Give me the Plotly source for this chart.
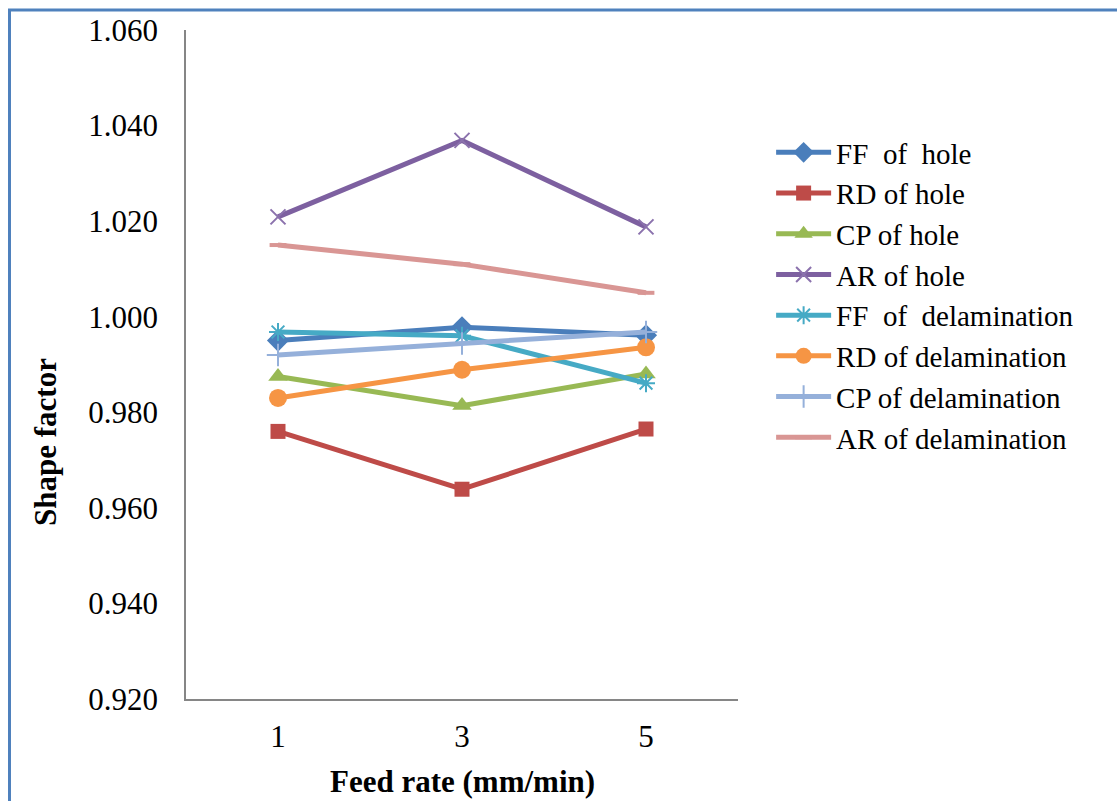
import plotly.graph_objects as go

feed_rate = ["1", "3", "5"]

ff_hole = [0.9950, 0.9978, 0.9961]
rd_hole = [0.9760, 0.9639, 0.9765]
cp_hole = [0.9875, 0.9814, 0.9880]
ar_hole = [1.0209, 1.0369, 1.0188]
ff_delam = [0.9968, 0.9960, 0.9861]
rd_delam = [0.9830, 0.9889, 0.9936]
cp_delam = [0.9920, 0.9944, 0.9968]
ar_delam = [1.0150, 1.0110, 1.0050]

y_ticks = [0.920, 0.940, 0.960, 0.980, 1.000, 1.020, 1.040, 1.060]
y_tick_text = ["0.920", "0.940", "0.960", "0.980", "1.000", "1.020", "1.040", "1.060"]

FONT = "Liberation Serif"

series = [
    ("FF  of  hole", ff_hole, "#4A7EBB", dict(symbol="diamond", size=17)),
    ("RD of hole", rd_hole, "#BE4B48", dict(symbol="square", size=15)),
    ("CP of hole", cp_hole, "#98B954", dict(symbol="triangle-up", size=17)),
    ("AR of hole", ar_hole, "#7D60A0", dict(symbol="x-thin", size=15, line=dict(width=2, color="#8B72AD"))),
    ("FF  of  delamination", ff_delam, "#46AAC5", dict(symbol="asterisk", size=15, line=dict(width=2, color="#46AAC5"))),
    ("RD of delamination", rd_delam, "#F69544", dict(symbol="circle", size=18)),
    ("CP of delamination", cp_delam, "#95B0DA", dict(symbol="cross-thin", size=16, line=dict(width=2, color="#95B0DA"))),
    ("AR of delamination", ar_delam, "#D99694", dict(symbol="line-ew", size=12, line=dict(width=4, color="#D99694"))),
]

fig = go.Figure()
for name, vals, color, marker in series:
    m = dict(color=color)
    m.update(marker)
    fig.add_trace(go.Scatter(
        x=feed_rate, y=vals, name=name, mode="lines+markers",
        line=dict(color=color, width=5), marker=m,
    ))

fig.update_layout(
    width=1117, height=801,
    paper_bgcolor="white", plot_bgcolor="white",
    margin=dict(l=186, r=379, t=30, b=102),
    font=dict(family=FONT, size=31, color="black"),
    showlegend=True,
    legend=dict(
        x=1.06, y=0.855, xanchor="left", yanchor="top",
        font=dict(family=FONT, size=29, color="black"),
        tracegroupgap=0, itemwidth=55, bgcolor="rgba(0,0,0,0)",
    ),
    xaxis=dict(
        type="category", range=[-0.5, 2.5],
        showline=True, linecolor="#868686", linewidth=1.5,
        showgrid=False, zeroline=False, ticks="",
        ticklabelstandoff=9,
        tickfont=dict(family=FONT, size=31),
    ),
    yaxis=dict(
        range=[0.920, 1.060], tickvals=y_ticks, ticktext=y_tick_text,
        showline=True, linecolor="#868686", linewidth=1.5,
        showgrid=False, zeroline=False, ticks="",
        ticklabelstandoff=20,
        tickfont=dict(family=FONT, size=31),
    ),
    annotations=[
        dict(text="<b>Shape factor</b>", xref="paper", yref="paper",
             x=(45 - 186) / 552, y=(699 - 442) / 669, textangle=-90,
             showarrow=False, xanchor="center", yanchor="middle",
             font=dict(family=FONT, size=31, color="black")),
        dict(text="<b>Feed rate (mm/min)</b>", xref="paper", yref="paper",
             x=0.5, y=(699 - 781) / 669, showarrow=False,
             xanchor="center", yanchor="middle",
             font=dict(family=FONT, size=31, color="black")),
    ],
    shapes=[
        dict(type="rect", xref="paper", yref="paper",
             x0=(9.5 - 186) / 552, x1=(1140 - 186) / 552,
             y0=(699 - 830) / 669, y1=(699 - 10) / 669,
             line=dict(color="#4F81BD", width=3), layer="below"),
    ],
)

fig.write_html("out.html")
